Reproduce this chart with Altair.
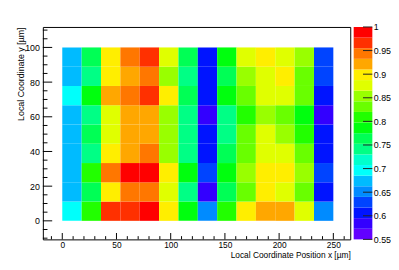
import altair as alt
import pandas as pd

# ---- data ----
n_cols = 14
n_rows = 9
x_lo, x_hi = 0.0, 250.0
y_lo, y_hi = 0.0, 100.0

# rows from bottom (y index 0) to top (y index 8), 14 columns left to right
row0 = [0.696, 0.809, 0.966, 0.966, 0.989, 0.899, 0.786, 0.651, 0.809, 0.899, 0.921, 0.921, 0.876, 0.651]
row1 = [0.674, 0.764, 0.899, 0.944, 0.944, 0.876, 0.741, 0.584, 0.764, 0.831, 0.899, 0.876, 0.831, 0.606]
row2 = [0.674, 0.809, 0.944, 0.989, 0.989, 0.899, 0.786, 0.629, 0.786, 0.854, 0.899, 0.899, 0.854, 0.629]
row3 = [0.674, 0.741, 0.899, 0.921, 0.944, 0.854, 0.741, 0.606, 0.764, 0.831, 0.876, 0.876, 0.831, 0.606]
row4 = [0.674, 0.764, 0.876, 0.921, 0.921, 0.854, 0.741, 0.606, 0.741, 0.831, 0.876, 0.854, 0.809, 0.606]
row5 = [0.674, 0.741, 0.876, 0.921, 0.921, 0.854, 0.741, 0.584, 0.741, 0.809, 0.854, 0.831, 0.786, 0.584]
row6 = [0.696, 0.786, 0.921, 0.944, 0.966, 0.899, 0.764, 0.606, 0.786, 0.831, 0.876, 0.876, 0.831, 0.606]
row7 = [0.674, 0.741, 0.899, 0.921, 0.944, 0.854, 0.741, 0.606, 0.764, 0.854, 0.876, 0.899, 0.831, 0.629]
row8 = [0.674, 0.764, 0.899, 0.944, 0.966, 0.876, 0.764, 0.606, 0.786, 0.876, 0.899, 0.876, 0.854, 0.629]
rows = [row0, row1, row2, row3, row4, row5, row6, row7, row8]

z_min, z_max = 0.55, 1.0
palette = ["#6200ff", "#3300ff", "#0014ff", "#0044ff", "#008bff", "#00bbff", "#00fffb",
           "#00ffcc", "#00ff85", "#00ff55", "#00ff0e", "#22ff00", "#69ff00", "#99ff00",
           "#e0ff00", "#ffee00", "#ffa700", "#ff7700", "#ff3000", "#ff0000"]
cb_ticks = [0.55, 0.6, 0.65, 0.7, 0.75, 0.8, 0.85, 0.9, 0.95, 1.0]
x_major = [0, 50, 100, 150, 200, 250]
x_minor = [-10, 10, 20, 30, 40, 60, 70, 80, 90, 110, 120, 130, 140, 160, 170, 180, 190,
           210, 220, 230, 240, 260]
y_major = [0, 20, 40, 60, 80, 100]
y_minor = [-10, -5, 5, 10, 15, 25, 30, 35, 45, 50, 55, 65, 70, 75, 85, 90, 95, 105, 110]

x_dom = [-17.9, 265.6]
y_dom = [-10.7, 111.8]

W = 313
H = 216.3
FONT = "Liberation Sans"

# ---- build tables ----
px = (x_hi - x_lo) / n_cols
py = (y_hi - y_lo) / n_rows
recs = []
for j, r in enumerate(rows):
    for i, v in enumerate(r):
        recs.append({"x0": x_lo + i * px, "x1": x_lo + (i + 1) * px,
                     "y0": y_lo + j * py, "y1": y_lo + (j + 1) * py, "v": v})
cells = pd.DataFrame(recs)

nb = len(palette)
bw = (z_max - z_min) / nb
bands = pd.DataFrame({
    "lo": [z_min + k * bw for k in range(nb)],
    "hi": [z_min + (k + 1) * bw for k in range(nb)],
    "mid": [z_min + (k + 0.5) * bw for k in range(nb)],
    "bx0": [0.0] * nb, "bx1": [1.0] * nb,
})
cbt = pd.DataFrame({"lo": cb_ticks, "bx0": [0.5] * len(cb_ticks), "bx1": [1.0] * len(cb_ticks)})

xs = alt.Scale(domain=x_dom, nice=False, zero=False)
ys = alt.Scale(domain=y_dom, nice=False, zero=False)
cs = alt.Scale(type="quantize", domain=[z_min, z_max], range=palette)

x_axis = alt.Axis(
    values=x_major, tickSize=0, domain=False, grid=False, labelPadding=1.5,
    labelFontSize=8.5, labelColor="#000", labelFont=FONT,
    title="Local Coordinate Position x [µm]", titleFontSize=8.5, titleFont=FONT,
    titleFontWeight="normal", titleColor="#000", titleX=W, titleY=20.6,
    titleAlign="right", titleBaseline="bottom")
y_axis = alt.Axis(
    values=y_major, tickSize=0, domain=False, grid=False, labelPadding=3.5,
    labelFontSize=9, labelColor="#000", labelFont=FONT,
    title="Local Coordinate y [µm]", titleFontSize=9, titleFont=FONT,
    titleFontWeight="normal", titleColor="#000", titleX=-18, titleY=0,
    titleAngle=270, titleAlign="right", titleBaseline="bottom")

heat = alt.Chart(cells).mark_rect(strokeWidth=0).encode(
    x=alt.X("x0:Q", scale=xs, axis=x_axis),
    x2="x1:Q",
    y=alt.Y("y0:Q", scale=ys, axis=y_axis),
    y2="y1:Q",
    color=alt.Color("v:Q", scale=cs, legend=None),
)

xmaj = alt.Chart(pd.DataFrame({"x0": x_major})).mark_rule(color="#000", strokeWidth=1).encode(
    x=alt.X("x0:Q", scale=xs, axis=x_axis), y=alt.value(H), y2=alt.value(H - 6.5))
xmin = alt.Chart(pd.DataFrame({"x0": x_minor})).mark_rule(color="#000", strokeWidth=1).encode(
    x=alt.X("x0:Q", scale=xs, axis=x_axis), y=alt.value(H), y2=alt.value(H - 3.3))
ymaj = alt.Chart(pd.DataFrame({"y0": y_major})).mark_rule(color="#000", strokeWidth=1).encode(
    y=alt.Y("y0:Q", scale=ys, axis=y_axis), x=alt.value(0), x2=alt.value(9.5))
ymin = alt.Chart(pd.DataFrame({"y0": y_minor})).mark_rule(color="#000", strokeWidth=1).encode(
    y=alt.Y("y0:Q", scale=ys, axis=y_axis), x=alt.value(0), x2=alt.value(4.7))

main = alt.layer(heat, xmaj, xmin, ymaj, ymin)

cbx = alt.Scale(domain=[0, 1], range=[316.5, 335.5])
cby = alt.Scale(domain=[z_min, z_max], nice=False, zero=False)
cb_axis = alt.Axis(
    orient="right", offset=22.5, values=cb_ticks, format="~g", tickSize=0,
    domain=False, grid=False, labelPadding=1, labelFontSize=9, labelFont=FONT,
    labelColor="#000", labelFlush=False, title=None)
cbar = alt.Chart(bands).mark_rect(strokeWidth=0).encode(
    x=alt.X("bx0:Q", scale=cbx, axis=None),
    x2="bx1:Q",
    y=alt.Y("lo:Q", scale=cby, axis=cb_axis),
    y2="hi:Q",
    color=alt.Color("mid:Q", scale=cs, legend=None),
)
cbtick = alt.Chart(cbt).mark_rule(color="#222", strokeWidth=1).encode(
    x=alt.X("bx0:Q", scale=cbx, axis=None),
    x2="bx1:Q",
    y=alt.Y("lo:Q", scale=cby, axis=cb_axis),
)
cb = alt.layer(cbar, cbtick)

chart = alt.layer(main, cb).resolve_scale(x="independent", y="independent").properties(
    width=W, height=H,
    autosize=alt.AutoSizeParams(type="none"),
    padding={"left": 35.5, "top": 17, "right": 41.5, "bottom": 20.7},
    background="white",
).configure_view(stroke="#000", strokeWidth=1, fill="white")

chart.save("out.html", embed_options={"renderer": "svg", "actions": False})
